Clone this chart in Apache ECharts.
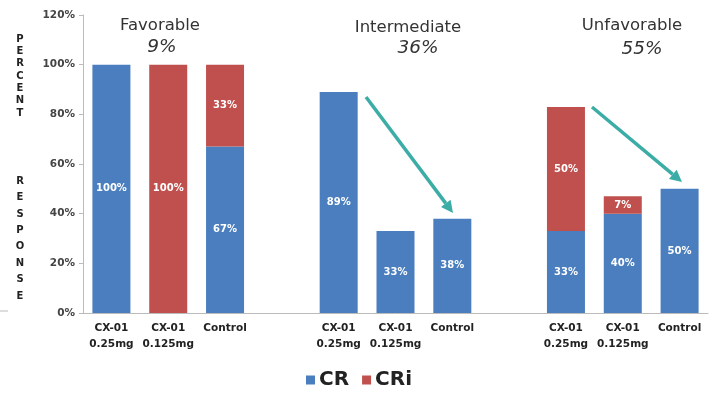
<!DOCTYPE html>
<html>
<head>
<meta charset="utf-8">
<script src="https://cdn.jsdelivr.net/npm/echarts@6/dist/echarts.min.js"></script>
<style>
  html, body { margin: 0; padding: 0; background: #fff; }
  #chart { width: 719px; height: 394px; }
</style>
</head>
<body>
<div id="chart"></div>
<script>
// Response rates by risk group; empty slots separate the three groups.
const categories = [
  'CX-01\n0.25mg', 'CX-01\n0.125mg', 'Control', '',
  'CX-01\n0.25mg', 'CX-01\n0.125mg', 'Control', '',
  'CX-01\n0.25mg', 'CX-01\n0.125mg', 'Control'
];
const crValues  = [100, 0, 67, null, 89, 33, 38, null, 33, 40, 50];
const criValues = [0, 100, 33, null, 0, 0, 0, null, 50, 7, 0];
const yTicks = [0, 20, 40, 60, 80, 100, 120];
const groupNames = ['Favorable', 'Intermediate', 'Unfavorable'];
const groupShares = ['9%', '36%', '55%'];

const BLUE = '#4A7EBF';
const RED = '#C0504D';
const TEAL = '#3CADA6';
const FONT = 'DejaVu Sans';

const chart = echarts.init(document.getElementById('chart'));

const segLabel = {
  show: true,
  position: 'inside',
  color: '#fff',
  fontFamily: FONT,
  fontWeight: 'bold',
  fontSize: 10,
  formatter: p => (p.value > 0 ? p.value + '%' : '')
};

function arrow(x1, y1, x2, y2) {
  const ang = Math.atan2(y2 - y1, x2 - x1);
  const len = 12, half = 6;
  const bx = x2 - len * Math.cos(ang), by = y2 - len * Math.sin(ang);
  const px = -Math.sin(ang) * half, py = Math.cos(ang) * half;
  return [
    { type: 'line', shape: { x1, y1, x2: bx, y2: by },
      style: { stroke: TEAL, lineWidth: 3.5 } },
    { type: 'polygon', shape: { points: [[x2, y2], [bx + px, by + py], [bx - px, by - py]] },
      style: { fill: TEAL } }
  ];
}

const titleStyle = { fontFamily: FONT, fontSize: 16.5, fill: '#333', align: 'center', verticalAlign: 'middle' };
const shareStyle = { fontFamily: FONT, fontSize: 18.5, fontStyle: 'italic', fill: '#333', align: 'center', verticalAlign: 'middle' };
const titlePos = [[160, 26], [408, 28], [632, 26]];
const sharePos = [[162, 47], [418, 48], [642, 49]];

const graphics = [];
groupNames.forEach((n, i) => {
  graphics.push({ type: 'text', x: titlePos[i][0], y: titlePos[i][1], style: Object.assign({ text: n }, titleStyle) });
  graphics.push({ type: 'text', x: sharePos[i][0], y: sharePos[i][1], style: Object.assign({ text: groupShares[i] }, shareStyle) });
});
// vertical axis caption
graphics.push({ type: 'text', x: 20, y: 33, style: {
  text: 'PERCENT'.split('').join('\n'), fontFamily: FONT, fontWeight: 'bold', fontSize: 10,
  lineHeight: 12.3, fill: '#222', align: 'center', verticalAlign: 'top' } });
graphics.push({ type: 'text', x: 20, y: 173, style: {
  text: 'RESPONSE'.split('').join('\n'), fontFamily: FONT, fontWeight: 'bold', fontSize: 10,
  lineHeight: 16.4, fill: '#222', align: 'center', verticalAlign: 'top' } });
graphics.push({ type: 'line', shape: { x1: 0, y1: 311, x2: 8, y2: 311 }, style: { stroke: '#bbb', lineWidth: 1 } });
graphics.push(...arrow(366, 97, 453, 213));
graphics.push(...arrow(592, 107, 682, 182));

chart.setOption({
  animation: false,
  backgroundColor: '#fff',
  grid: { left: 83, right: 11, top: 15, bottom: 81, containLabel: false },
  legend: {
    data: ['CR', 'CRi'],
    left: 301, top: 365,
    icon: 'rect', itemWidth: 9, itemHeight: 9, itemGap: 13,
    textStyle: { fontFamily: FONT, fontWeight: 'bold', fontSize: 20, color: '#222', padding: [0, 0, 0, -1] }
  },
  xAxis: {
    type: 'category',
    data: categories,
    axisLine: { lineStyle: { color: '#bbb' } },
    axisTick: { show: false },
    axisLabel: { interval: 0, color: '#222', fontFamily: FONT, fontWeight: 'bold', fontSize: 10.5, lineHeight: 16, margin: 7 }
  },
  yAxis: {
    type: 'value',
    min: yTicks[0], max: yTicks[yTicks.length - 1], interval: 20,
    axisLine: { show: true, lineStyle: { color: '#bbb' } },
    axisTick: { show: true, length: 4, lineStyle: { color: '#bbb' } },
    splitLine: { show: false },
    axisLabel: { color: '#444', fontFamily: FONT, fontWeight: 'bold', fontSize: 10.5, margin: 8,
      formatter: v => v + '%' }
  },
  series: [
    { name: 'CR', type: 'bar', stack: 'r', data: crValues, barWidth: 38,
      itemStyle: { color: BLUE }, label: segLabel },
    { name: 'CRi', type: 'bar', stack: 'r', data: criValues, barWidth: 38,
      itemStyle: { color: RED }, label: segLabel }
  ],
  graphic: graphics
});
</script>
</body>
</html>
